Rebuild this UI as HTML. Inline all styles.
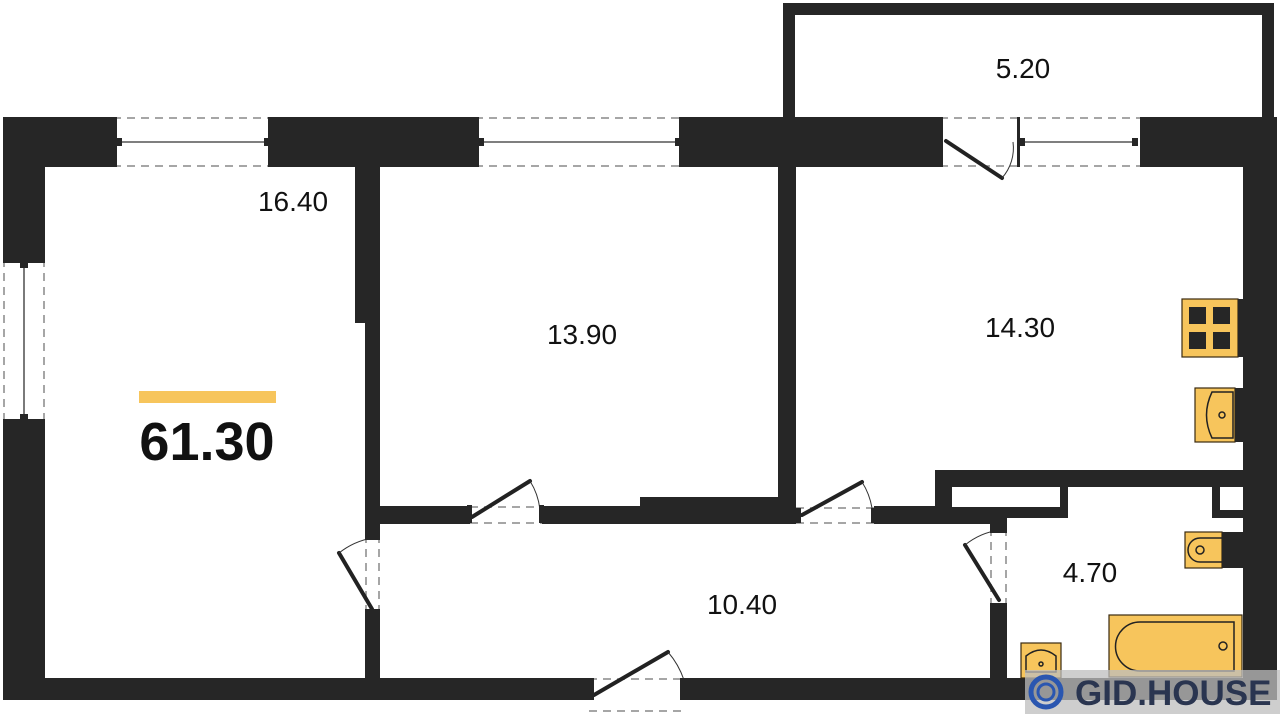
<!DOCTYPE html>
<html><head><meta charset="utf-8"><style>
html,body{margin:0;padding:0;background:#fff;}
svg{display:block;}
text{font-family:"Liberation Sans",sans-serif;fill:#111;}
</style></head><body>
<svg width="1280" height="714" viewBox="0 0 1280 714" xmlns="http://www.w3.org/2000/svg">
<g fill="#262626">
<rect x="783" y="3" width="12" height="114"/>
<rect x="783" y="3" width="490" height="12"/>
<rect x="1262" y="3" width="12" height="114"/>
<rect x="3" y="117" width="110" height="50"/>
<rect x="272" y="117" width="203" height="50"/>
<rect x="683" y="117" width="257" height="50"/>
<rect x="1140" y="117" width="137" height="50"/>
<rect x="3" y="117" width="42" height="142"/>
<rect x="3" y="423" width="42" height="277"/>
<rect x="1243" y="117" width="34" height="583"/>
<rect x="3" y="678" width="586" height="22"/>
<rect x="685" y="678" width="592" height="22"/>
<rect x="355" y="167" width="25" height="156"/>
<rect x="365" y="167" width="15" height="368"/>
<rect x="365" y="614" width="15" height="70"/>
<rect x="380" y="506" width="90" height="18"/>
<rect x="542" y="506" width="254" height="18"/>
<rect x="640" y="497" width="156" height="27"/>
<rect x="778" y="167" width="18" height="357"/>
<rect x="874" y="506" width="133" height="18"/>
<rect x="935" y="470" width="308" height="17"/>
<rect x="935" y="470" width="17" height="40"/>
<rect x="1060" y="470" width="8" height="48"/>
<rect x="990" y="505" width="78" height="13"/>
<rect x="1212" y="470" width="31" height="48"/>
<rect x="990" y="518" width="17" height="10"/>
<rect x="990" y="607" width="17" height="75"/>
</g>
<rect x="952" y="487" width="108" height="20" fill="#fff"/>
<rect x="1220" y="487" width="23" height="23" fill="#fff"/>

<g stroke="#888" stroke-width="1.5" stroke-dasharray="8,6" fill="none">
<line x1="113" y1="118" x2="272" y2="118"/><line x1="113" y1="166" x2="272" y2="166"/>
<line x1="475" y1="118" x2="683" y2="118"/><line x1="475" y1="166" x2="683" y2="166"/>
<line x1="940" y1="118" x2="1140" y2="118"/><line x1="940" y1="166" x2="1140" y2="166"/>
<line x1="4" y1="259" x2="4" y2="423"/><line x1="44" y1="259" x2="44" y2="423"/>
<line x1="470" y1="507" x2="542" y2="507"/><line x1="470" y1="523" x2="542" y2="523"/>
<line x1="796" y1="508" x2="874" y2="508"/><line x1="796" y1="523" x2="874" y2="523"/>
<line x1="589" y1="679" x2="685" y2="679"/><line x1="589" y1="711" x2="685" y2="711"/>
<line x1="366" y1="535" x2="366" y2="614"/><line x1="379" y1="535" x2="379" y2="614"/>
<line x1="991" y1="528" x2="991" y2="607"/><line x1="1006" y1="528" x2="1006" y2="607"/>
</g>
<g stroke="#333" stroke-width="1.3">
<line x1="118" y1="142" x2="268" y2="142"/>
<line x1="480" y1="142" x2="679" y2="142"/>
<line x1="1020" y1="142" x2="1135" y2="142"/>
<line x1="24" y1="264" x2="24" y2="418"/>
</g>
<g fill="#262626">
<rect x="113" y="117" width="4" height="50"/><rect x="268" y="117" width="4" height="50"/>
<rect x="116" y="138" width="6" height="8"/><rect x="264" y="138" width="6" height="8"/>
<rect x="475" y="117" width="4" height="50"/><rect x="679" y="117" width="4" height="50"/>
<rect x="478" y="138" width="6" height="8"/><rect x="675" y="138" width="6" height="8"/>
<rect x="1017" y="117" width="3" height="50"/><rect x="1020" y="138" width="5" height="8"/><rect x="1132" y="138" width="6" height="8"/>
<rect x="940" y="117" width="3" height="50"/>
<rect x="3" y="259" width="42" height="4"/><rect x="3" y="419" width="42" height="4"/>
<rect x="20" y="262" width="8" height="6"/><rect x="20" y="414" width="8" height="6"/>
</g>
<g stroke="#222" stroke-width="4" stroke-linecap="round">
<line x1="946" y1="141" x2="1002" y2="178"/>
<line x1="472" y1="517" x2="530" y2="481"/>
<line x1="802" y1="515" x2="862" y2="482"/>
<line x1="594" y1="695" x2="668" y2="652"/>
<line x1="372" y1="609" x2="339" y2="553"/>
<line x1="999" y1="600" x2="965" y2="545"/>
</g>
<g stroke="#333" stroke-width="1" fill="none">
<path d="M530 481 A68 68 0 0 1 540 510"/>
<path d="M862 482 A70 70 0 0 1 872 508"/>
<path d="M668 652 A85 85 0 0 1 684 680"/>
<path d="M339 553 A75 75 0 0 1 372 538"/>
<path d="M965 545 A70 70 0 0 1 1000 530"/>
<path d="M1002 178 A45 45 0 0 0 1013 142"/>
</g>
<g fill="#262626">
<rect x="467" y="505" width="5" height="18"/><rect x="539" y="505" width="5" height="18"/>
<rect x="796" y="508" width="5" height="15"/><rect x="871" y="508" width="5" height="15"/>
<rect x="589" y="678" width="5" height="22"/><rect x="680" y="678" width="5" height="22"/>
<rect x="365" y="535" width="15" height="5"/><rect x="365" y="609" width="15" height="5"/>
<rect x="990" y="528" width="17" height="5"/><rect x="990" y="603" width="17" height="5"/>
</g>

<g stroke="#3a2a10" stroke-width="1.2">
<rect x="1182" y="299" width="56" height="58" fill="#f7c55c"/>
<rect x="1195" y="388" width="40" height="54" fill="#f7c55c"/>
<rect x="1185" y="532" width="37" height="36" fill="#f7c55c"/>
<rect x="1109" y="615" width="133" height="62" fill="#f7c55c"/>
<rect x="1021" y="643" width="40" height="35" fill="#f7c55c"/>
</g>
<rect x="1238" y="299" width="5" height="58" fill="#262626"/>
<rect x="1235" y="388" width="8" height="54" fill="#262626"/>
<rect x="1222" y="532" width="21" height="36" fill="#262626"/>
<g fill="#262626">
<rect x="1189" y="307" width="17" height="17"/><rect x="1213" y="307" width="17" height="17"/>
<rect x="1189" y="332" width="17" height="17"/><rect x="1213" y="332" width="17" height="17"/>
</g>
<g stroke="#222" stroke-width="1.5" fill="none">
<path d="M1233 392 H1212 Q1201 415 1212 438 H1233 Z"/>
<circle cx="1222" cy="415" r="3"/>
<path d="M1222 538 H1200 A12 12 0 0 0 1200 562 H1222"/>
<circle cx="1200" cy="550" r="4"/>
<path d="M1234 622 H1140 A24 24 0 0 0 1140 671 H1234 Z"/>
<circle cx="1223" cy="646" r="4"/>
<path d="M1026 672 V656 Q1041 644 1056 656 V672 Z"/>
<circle cx="1041" cy="664" r="2"/>
</g>

<text x="1023" y="78" font-size="28" text-anchor="middle">5.20</text>
<text x="293" y="211" font-size="28" text-anchor="middle">16.40</text>
<text x="582" y="344" font-size="28" text-anchor="middle">13.90</text>
<text x="1020" y="337" font-size="28" text-anchor="middle">14.30</text>
<text x="742" y="614" font-size="28" text-anchor="middle">10.40</text>
<text x="1090" y="582" font-size="28" text-anchor="middle">4.70</text>
<rect x="139" y="391" width="137" height="12" fill="#f7c55c"/>
<text x="207" y="460" font-size="54" font-weight="bold" text-anchor="middle">61.30</text>

<rect x="1025" y="670" width="255" height="44" fill="#bdbdbd" opacity="0.75"/>
<circle cx="1046" cy="692" r="15" fill="none" stroke="#2a56b0" stroke-width="5"/>
<circle cx="1046" cy="692" r="8" fill="none" stroke="#2a56b0" stroke-width="3"/>
<text x="1075" y="705" font-size="35" font-weight="bold" style="fill:#2a3550">GID.HOUSE</text>
</svg>
</body></html>
